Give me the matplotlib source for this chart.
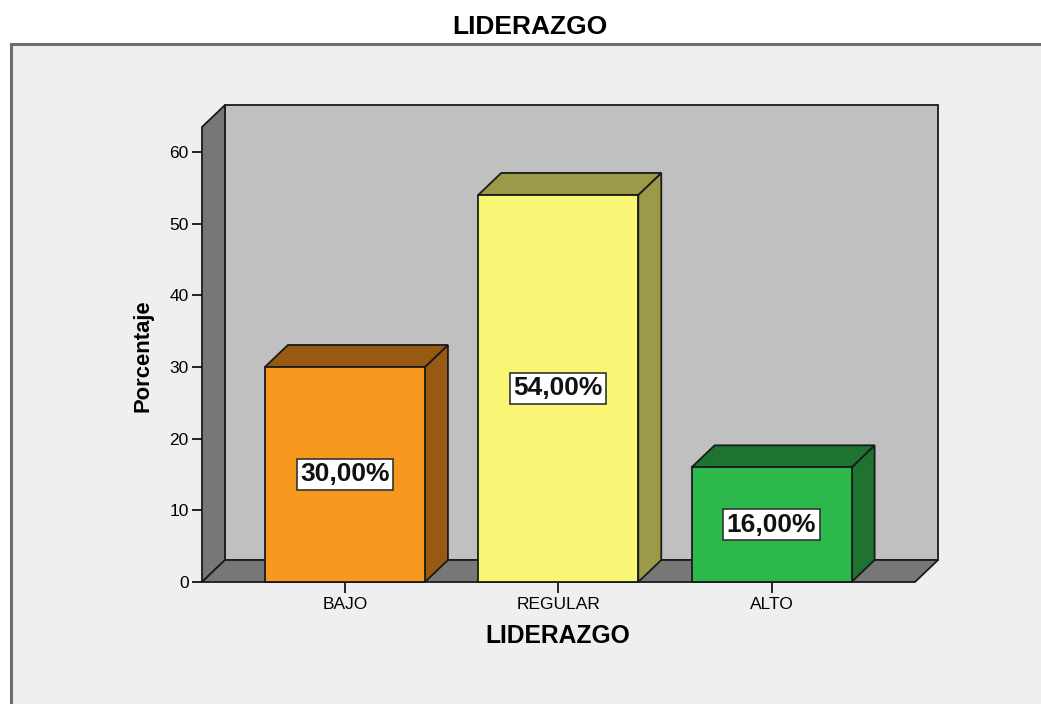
import matplotlib
matplotlib.use("Agg")
import matplotlib.pyplot as plt
from matplotlib.patches import Polygon, Rectangle
from matplotlib.lines import Line2D

plt.rcParams['font.family'] = ['Liberation Sans', 'DejaVu Sans']

# ---- data ----
categories = ["BAJO", "REGULAR", "ALTO"]
percentages = [30.0, 54.0, 16.0]
yticks = [0, 10, 20, 30, 40, 50, 60]
title = "LIDERAZGO"
xlabel = "LIDERAZGO"
ylabel = "Porcentaje"

front_colors = ["#F7991F", "#FAF675", "#2DB84B"]
dark_colors = ["#985A12", "#9C9A49", "#1E7331"]

W, H = 1041, 704
fig = plt.figure(figsize=(W / 100, H / 100), dpi=100)
fig.patch.set_facecolor("white")

# outer panel
panel_left = 11 / W
panel_top = 1 - 44 / H
fig.patches.append(Rectangle((panel_left, 0), 1 - panel_left, panel_top,
                             transform=fig.transFigure, facecolor="#EFEFEF",
                             edgecolor="none", zorder=-3))
fig.lines.append(Line2D([panel_left, panel_left], [0, panel_top], transform=fig.transFigure,
                        color="#6E6E6E", lw=2.2, zorder=-2))
fig.lines.append(Line2D([panel_left, 1], [panel_top, panel_top], transform=fig.transFigure,
                        color="#6E6E6E", lw=2.2, zorder=-2))

# axes placement (pixels)
axL, axR, axB, axT = 202, 938, 582, 105
ax = fig.add_axes([axL / W, 1 - axB / H, (axR - axL) / W, (axB - axT) / H])
ax.set_zorder(2)
ax.set_facecolor("none")
x0, x1 = -0.67, 2.78
ytop = 66.55
ax.set_xlim(x0, x1)
ax.set_ylim(0, ytop)
for s in ax.spines.values():
    s.set_visible(False)

# depth offsets in data units
px_x = (axR - axL) / (x1 - x0)
px_y = (axB - axT) / ytop
dx = 23 / px_x
dy = 22 / px_y

lw = 1.3
ec = "#1a1a1a"
# back wall
ax.add_patch(Rectangle((x0 + dx, dy), x1 - x0 - dx, ytop - dy, facecolor="#C0C0C0",
                       edgecolor=ec, lw=lw, zorder=1, clip_on=False))
# left wall
ax.add_patch(Polygon([(x0, 0), (x0, ytop - dy), (x0 + dx, ytop), (x0 + dx, dy)],
                     closed=True, facecolor="#777777", edgecolor=ec, lw=lw, zorder=1, clip_on=False))
# floor
ax.add_patch(Polygon([(x0, 0), (x1 - dx, 0), (x1, dy), (x0 + dx, dy)],
                     closed=True, facecolor="#777777", edgecolor=ec, lw=lw, zorder=1, clip_on=False))

bw = 0.75
for i, (v, fc, dc) in enumerate(zip(percentages, front_colors, dark_colors)):
    l, r = i - bw / 2, i + bw / 2
    # side
    ax.add_patch(Polygon([(r, 0), (r + dx, dy), (r + dx, v + dy), (r, v)], closed=True,
                         facecolor=dc, edgecolor=ec, lw=lw, zorder=3, clip_on=False))
    # top
    ax.add_patch(Polygon([(l, v), (r, v), (r + dx, v + dy), (l + dx, v + dy)], closed=True,
                         facecolor=dc, edgecolor=ec, lw=lw, zorder=3, clip_on=False))
    # front
    ax.add_patch(Rectangle((l, 0), bw, v, facecolor=fc, edgecolor=ec, lw=lw, zorder=4, clip_on=False))
    lab = f"{v:.2f}".replace(".", ",") + "%"
    ax.text(i, v / 2, lab, ha="center", va="center", fontsize=19, fontweight="bold",
            color="#111111", zorder=6,
            bbox=dict(boxstyle="square,pad=0.13", facecolor="white", edgecolor="#333333", lw=1.2))

ax.set_xticks(range(len(categories)))
ax.set_xticklabels(categories)
ax.set_yticks(yticks)
ax.tick_params(axis="y", direction="out", length=7, width=1.2, pad=2.5, labelsize=12.5, colors="black")
ax.tick_params(axis="x", direction="out", length=8, width=1.2, pad=3, labelsize=12.5, colors="black")

fig.text(530 / W, 1 - 27 / H, title, ha="center", va="center", fontsize=19, fontweight="bold")
fig.text(558 / W, 1 - 636 / H, xlabel, ha="center", va="center", fontsize=17.7, fontweight="bold")
fig.text(143 / W, 1 - 356 / H, ylabel, ha="center", va="center", rotation=90, fontsize=15.8,
         fontweight="bold")

fig.savefig("out.png", dpi=100, facecolor=fig.get_facecolor())
